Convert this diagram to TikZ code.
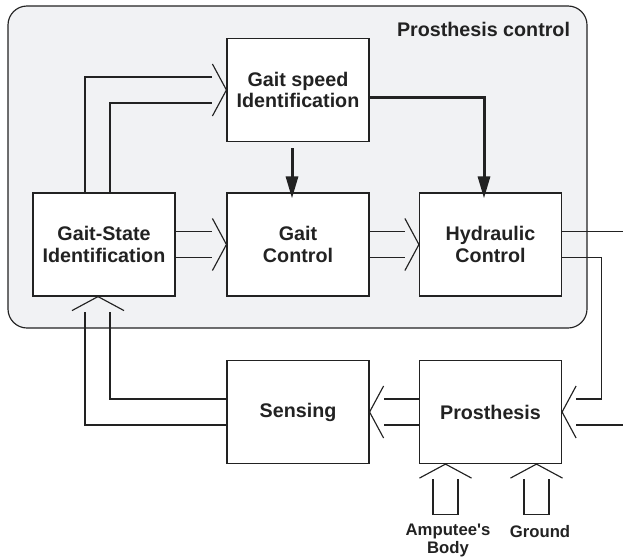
\documentclass[tikz,border=0pt]{standalone}
\usepackage{fontspec}
\setmainfont{Liberation Sans}
\usetikzlibrary{arrows.meta}

\definecolor{panel}{RGB}{241,242,244}
\definecolor{ink}{RGB}{34,34,34}

\begin{document}
\begin{tikzpicture}[x=1pt,y=-1pt, line width=1.15pt, color=ink,
  block/.style={draw, fill=white, minimum width=142pt, minimum height=103pt,
    inner sep=0pt, align=center, font=\bfseries\fontsize{19.7}{21.5}\selectfont},
  lbl/.style={align=center, inner sep=0pt, font=\bfseries\fontsize{16.7}{18}\selectfont},
  feed/.pic={\draw (-14,-26) -- (0,0) -- (-14,26);},
  heavy/.style={line width=3pt, shorten >=-6pt, -{Triangle[length=22pt,width=12pt]}}]
 \useasboundingbox (0,0) rectangle (623,557);

 % control panel
 \node[draw, fill=panel, rounded corners=19pt, minimum width=579pt, minimum height=322pt,
   inner sep=0pt] (ctrl) at (297.5,167) {};
 \node[anchor=east, inner sep=0pt, font=\bfseries\fontsize{19.7}{21.5}\selectfont]
   (title) at ([xshift=-17pt,yshift=-24pt]ctrl.north east) {Prosthesis control};

 \node[block] (gsp) at (298,90) {Gait speed\\Identification};
 \node[block] (gs) at (104,244.5) {Gait-State\\Identification};
 \node[block] (gc) at (298,244.5) {Gait\\Control};
 \node[block] (hc) at (490.5,244.5) {Hydraulic\\Control};
 \node[block] (sen) at (298,412) {Sensing};
 \node[block] (pro) at (490.5,412) {Prosthesis};

 % gait state -> gait speed
 \draw ([xshift=-19pt]gs.north) |- ([xshift=-14pt,yshift=13pt]gsp.west);
 \draw ([xshift=6pt]gs.north) |- ([xshift=-14pt,yshift=-13pt]gsp.west);
 \pic at (gsp.west) {feed};

 % gait state -> gait control -> hydraulic control
 \draw ([yshift=13pt]gs.east) -- ([xshift=-14pt,yshift=13pt]gc.west);
 \draw ([yshift=-13pt]gs.east) -- ([xshift=-14pt,yshift=-13pt]gc.west);
 \pic at (gc.west) {feed};
 \draw ([yshift=13pt]gc.east) -- ([xshift=-14pt,yshift=13pt]hc.west);
 \draw ([yshift=-13pt]gc.east) -- ([xshift=-14pt,yshift=-13pt]hc.west);
 \pic at (hc.west) {feed};

 % speed estimate
 \draw[heavy] ([xshift=-6pt,yshift=-6pt]gsp.south) -- ([xshift=-6pt]gc.north);
 \draw[heavy] ([yshift=-7pt]gsp.east) -| ([xshift=-6.5pt]hc.north);

 % hydraulic control -> prosthesis
 \coordinate (outA) at (623,231.5);
 \coordinate (outB) at (623,425);
 \draw ([yshift=13pt]hc.east) -- (outA);
 \draw ([yshift=-13pt]hc.east) -- ++(39,0) |- ([xshift=14pt,yshift=13pt]pro.east);
 \draw ([xshift=14pt,yshift=-13pt]pro.east) -- (outB);
 \pic[rotate=180] at (pro.east) {feed};

 % prosthesis -> sensing -> gait state
 \draw ([yshift=13pt]pro.west) -- ([xshift=14pt,yshift=13pt]sen.east);
 \draw ([yshift=-13pt]pro.west) -- ([xshift=14pt,yshift=-13pt]sen.east);
 \pic[rotate=180] at (sen.east) {feed};
 \draw ([yshift=13pt]sen.west) -| ([xshift=6pt,yshift=-15pt]gs.south);
 \draw ([yshift=-13pt]sen.west) -| ([xshift=-19pt,yshift=-15pt]gs.south);
 \pic[rotate=90] at ([xshift=-6pt]gs.south) {feed};

 % outside inputs
 \coordinate (body) at ([xshift=-45pt]pro.south);
 \coordinate (grnd) at ([xshift=46pt]pro.south);
 \pic[rotate=90] at (body) {feed};
 \pic[rotate=90] at (grnd) {feed};
 \draw ([xshift=-12.5pt,yshift=-15pt]body) -- ++(0,35) -- ++(25,0) -- ++(0,-35);
 \draw ([xshift=-12.5pt,yshift=-15pt]grnd) -- ++(0,35) -- ++(25,0) -- ++(0,-35);
 \node[lbl] (amp) at ([xshift=2.5pt,yshift=-76pt]body) {Amputee\textquotesingle s\\Body};
 \node[lbl] (gnd) at ([xshift=3.5pt,yshift=-67pt]grnd) {Ground};
\end{tikzpicture}
\end{document}
